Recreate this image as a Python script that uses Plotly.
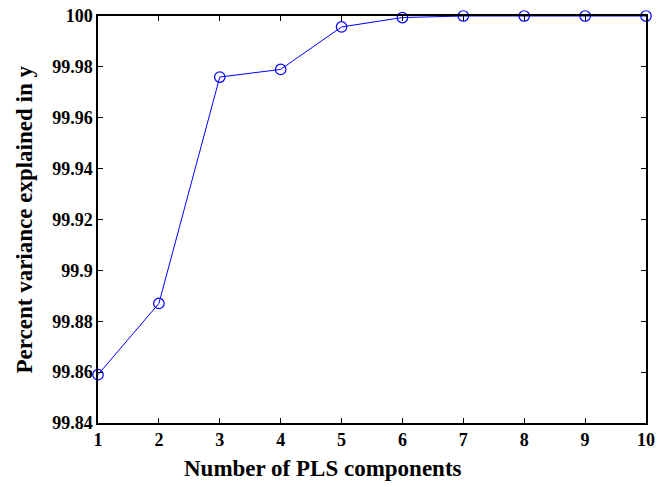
import plotly.graph_objects as go

components = [1, 2, 3, 4, 5, 6, 7, 8, 9, 10]
variance_explained = [99.859, 99.887, 99.976, 99.979, 99.9957, 99.9994, 100.0, 100.0, 100.0, 100.0]
y_tick_vals = [99.84, 99.86, 99.88, 99.90, 99.92, 99.94, 99.96, 99.98, 100.0]
y_tick_text = ["99.84", "99.86", "99.88", "99.9", "99.92", "99.94", "99.96", "99.98", "100"]
x_tick_vals = components
x_title = "Number of PLS components"
y_title = "Percent variance explained in y"

font_family = "Liberation Serif, Times New Roman, serif"

fig = go.Figure()
fig.add_trace(go.Scatter(
    x=components, y=variance_explained,
    mode="lines+markers",
    line=dict(color="#0000ff", width=1),
    marker=dict(symbol="circle-open", size=10.5, color="#0000ff", line=dict(width=1.2, color="#0000ff")),
    cliponaxis=False,
    showlegend=False,
    hoverinfo="skip",
))

axis_common = dict(
    showline=True, linecolor="black", linewidth=1.5, mirror="ticks",
    ticks="inside", ticklen=5, tickcolor="black", tickwidth=1,
    showgrid=False, zeroline=False, automargin=False,
    ticklabeloverflow="allow",
    tickfont=dict(family=font_family, size=18, color="black", weight="bold"),
)

fig.update_xaxes(range=[1, 10], tickvals=x_tick_vals, **axis_common)
fig.update_yaxes(range=[99.84, 100], tickvals=y_tick_vals, ticktext=y_tick_text, **axis_common)

title_font = dict(family=font_family, size=23, color="black", weight="bold")
fig.add_annotation(
    text=x_title, xref="paper", yref="paper", x=0.4106, y=-0.1106,
    xanchor="center", yanchor="middle", showarrow=False, font=title_font,
)
fig.add_annotation(
    text=y_title, xref="paper", yref="paper", x=-0.135, y=0.5, textangle=-90,
    xanchor="center", yanchor="middle", showarrow=False, font=title_font,
)

fig.update_layout(
    width=658, height=487,
    margin=dict(l=98, r=12, t=16, b=64),
    plot_bgcolor="white", paper_bgcolor="white",
)

fig.write_html(
    "out.html",
    config={"displayModeBar": False},
    post_script="document.body.style.margin='0';document.body.style.overflow='hidden';",
)
